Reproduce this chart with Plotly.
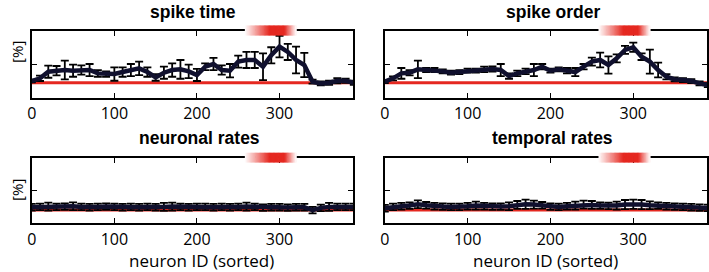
import plotly.graph_objects as go

# ---------------- data ----------------
neuron_ids = list(range(0, 400, 10))  # 0..390

spike_time = [24.6, 28.6, 38.5, 40, 41, 40, 41, 41, 36, 35,
              35, 38, 41, 43.5, 38, 30, 37, 41, 42, 39,
              33.6, 46, 50, 41, 40, 53.5, 56, 56, 46, 63,
              76, 68, 56, 48.5, 23.6, 21, 22, 25, 25, 22]
spike_time_err = [2, 4, 9, 7, 14, 9, 7, 9, 5, 4,
                  10, 7, 9, 10, 7, 5, 9, 10, 14, 10,
                  9, 5, 9, 7, 10, 9, 12, 12, 20, 12,
                  16, 12, 20, 18, 3, 3, 3, 4, 3, 3]

spike_order = [23.6, 28.6, 36, 37, 42, 41, 41, 39, 37, 38,
               40, 40, 42, 42.5, 41, 32, 36, 39, 41, 46,
               40, 42, 40, 38, 46, 53.5, 56, 48.5, 58.5, 71,
               75, 61, 53.5, 41, 31, 27, 26, 24.5, 21, 18.6]
spike_order_err = [2, 3, 8, 4, 13, 3, 3, 3, 3, 3,
                   3, 3, 4, 4, 9, 4, 4, 4, 9, 4,
                   3, 3, 4, 6, 4, 6, 11, 13, 6, 6,
                   7, 5, 18, 11, 4, 3, 3, 3, 3, 3]

neuronal_rates = [24.5, 25, 25.5, 25, 25.5, 26, 25, 24.5, 25, 25.5,
                  25, 24.5, 25, 24.5, 25, 24.5, 25, 25.5, 25, 24.5,
                  25, 25, 24.5, 25, 24.5, 25, 25.5, 25, 24, 24.5,
                  24.5, 24, 24.5, 24.5, 20, 23.5, 25, 25, 25, 25]
neuronal_rates_err = [5, 5, 6, 5, 5, 6, 5, 5, 5, 5,
                      5, 5, 5, 5, 5, 5, 6, 6, 5, 5,
                      5, 5, 5, 5, 5, 5, 6, 5, 5, 5,
                      5, 5, 5, 5, 5, 5, 6, 5, 5, 5]

temporal_rates = [23, 25, 26, 27, 29, 27.5, 26, 25.5, 25, 25,
                  26, 27, 26, 25.5, 25.5, 26, 28, 29, 28.5, 27.5,
                  25.5, 25, 26, 27, 28.5, 28, 27, 26.5, 27, 28.5,
                  29, 28.5, 27.5, 27, 26, 25.5, 25, 24.5, 24, 23.5]
temporal_rates_err = [5, 5, 5, 5, 6, 5, 5, 5, 5, 5,
                      5, 6, 5, 5, 5, 6, 6, 7, 6, 5,
                      5, 5, 5, 6, 6, 6, 5, 5, 6, 7,
                      7, 7, 6, 5, 5, 5, 5, 5, 5, 5]

chance_top = 21.9
chance_bottom = 20.3

panel_titles = ["spike time", "spike order", "neuronal rates", "temporal rates"]
x_tick_vals = [0, 100, 200, 300]
x_tick_text = ["0", "100", "200", "300"]
highlight_start, highlight_end = 258, 320

# ---------------- figure ----------------
LINE_COLOR = "#10102e"
RED_RGB = (229, 40, 32)
FONT = "Open Sans"

series = [(spike_time, spike_time_err, chance_top),
          (spike_order, spike_order_err, chance_top),
          (neuronal_rates, neuronal_rates_err, chance_bottom),
          (temporal_rates, temporal_rates_err, chance_bottom)]

xdoms = [[27 / 709, 351 / 709], [383 / 709, 708 / 709]]
ydoms = [[1 - 97.5 / 272, 1 - 30.5 / 272], [1 - 223.3 / 272, 1 - 157.7 / 272]]

fig = go.Figure()
layout = {}
for i, (vals, errs, chance) in enumerate(series):
    n = i + 1
    xa = "x" if n == 1 else f"x{n}"
    ya = "y" if n == 1 else f"y{n}"
    col = i % 2
    row = i // 2
    fig.add_trace(go.Scatter(x=[neuron_ids[0], 389], y=[chance, chance], mode="lines",
                             line=dict(color="rgb(%d,%d,%d)" % RED_RGB, width=3),
                             xaxis=xa, yaxis=ya, showlegend=False, hoverinfo="skip"))
    fig.add_trace(go.Scatter(x=neuron_ids, y=vals, mode="lines",
                             line=dict(color=LINE_COLOR, width=4.5),
                             error_y=dict(type="data", array=errs, color="black",
                                          thickness=1.8, width=4),
                             xaxis=xa, yaxis=ya, showlegend=False))
    axis_common = dict(showline=True, mirror="allticks", linecolor="black", linewidth=2,
                       ticks="inside", ticklen=5, tickwidth=1, tickcolor="black",
                       showgrid=False, zeroline=False)
    layout[f"xaxis{'' if n == 1 else n}"] = dict(
        domain=xdoms[col], range=[0, 389], anchor=ya,
        tickvals=x_tick_vals, ticktext=x_tick_text,
        tickfont=dict(family=FONT, size=16, color="black"), **axis_common)
    layout[f"yaxis{'' if n == 1 else n}"] = dict(
        domain=ydoms[row], range=[0, 100], anchor=xa,
        tickvals=[50], showticklabels=False, **axis_common)

    # highlight gradient bar at top of the panel (opaque, blended with white)
    steps = 40
    w = (highlight_end - highlight_start) / steps
    for k in range(steps):
        x0 = highlight_start + k * w
        c = x0 + w / 2
        if c < 288:
            a = (c - highlight_start) / (288 - highlight_start)
        elif c > 306:
            a = (highlight_end - c) / (highlight_end - 306)
        else:
            a = 1.0
        a = max(0.0, min(1.0, a))
        r, g, b = (round(255 * (1 - a) + ch * a) for ch in RED_RGB)
        fig.add_shape(type="rect", xref=xa, yref=f"{ya} domain",
                      x0=x0, x1=x0 + w * 1.6, y0=1 - 0.075, y1=1 + 0.075,
                      fillcolor=f"rgb({r},{g},{b})", line=dict(width=0),
                      layer="above")

annotations = []
title_pos = [(190, 12), (553, 12), (196, 138), (552, 138)]
for t, (px, py) in zip(panel_titles, title_pos):
    annotations.append(dict(text=f"<b>{t}</b>", x=px / 709, y=1 - py / 272, xref="paper",
                            yref="paper", showarrow=False, xanchor="center", yanchor="middle",
                            borderpad=0,
                            font=dict(family="Liberation Sans", size=17.5, color="black")))
for px in (198, 545):
    annotations.append(dict(text="neuron ID (sorted)", x=px / 709, y=1 - 260.5 / 272,
                            xref="paper", yref="paper", showarrow=False,
                            xanchor="center", yanchor="middle", borderpad=0,
                            font=dict(family=FONT, size=17, color="black")))
for py in (52, 190):
    annotations.append(dict(text="[%]", x=12 / 709, y=1 - py / 272, xref="paper",
                            yref="paper", showarrow=False, textangle=-90,
                            xanchor="center", yanchor="middle",
                            font=dict(family=FONT, size=15, color="black")))

fig.update_layout(width=709, height=272, margin=dict(l=0, r=0, t=0, b=0),
                  paper_bgcolor="white", plot_bgcolor="white",
                  annotations=annotations, **layout)
fig.write_html("out.html", config={"displayModeBar": False},
               post_script="document.body.style.margin='0';document.body.style.overflow='hidden';")
